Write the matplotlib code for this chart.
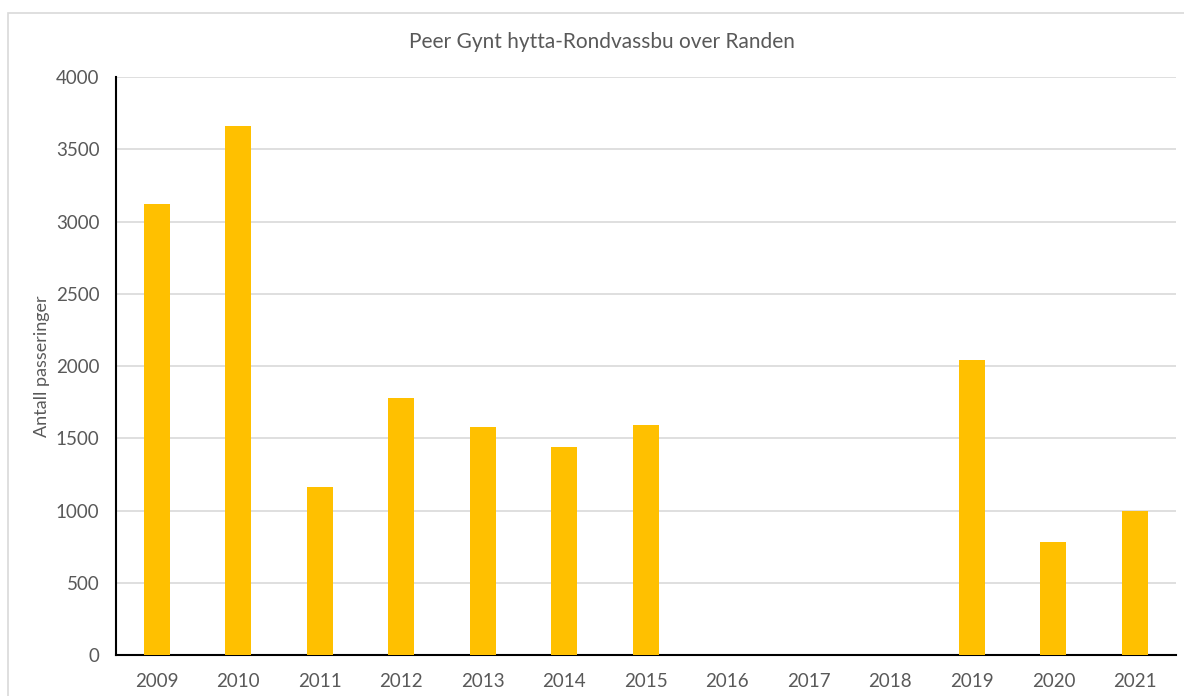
import matplotlib.pyplot as plt
from matplotlib.patches import Rectangle
import numpy as np

plt.rcParams['font.family'] = ['Lato', 'DejaVu Sans']

years = ['2009', '2010', '2011', '2012', '2013', '2014', '2015',
         '2016', '2017', '2018', '2019', '2020', '2021']
passeringer = [3120, 3665, 1165, 1778, 1578, 1440, 1594,
               0, 0, 0, 2040, 782, 998]
yticks = [0, 500, 1000, 1500, 2000, 2500, 3000, 3500, 4000]

txt = '#595959'
fig = plt.figure(figsize=(11.84, 6.96), dpi=100)
ax = fig.add_axes([0.098, 0.059, 0.895, 0.830])

x = np.arange(len(years))
ax.bar(x, passeringer, width=0.32, color='#FFC000', zorder=3)

ax.set_xlim(-0.5, len(years) - 0.5)
ax.set_ylim(0, 4000)
ax.set_yticks(yticks)
ax.set_xticks(x)
ax.set_xticklabels(years)
ax.grid(axis='y', color='#d9d9d9', linewidth=1.2, zorder=0)
ax.tick_params(length=0, colors=txt, labelsize=13.5)
ax.tick_params(axis='x', pad=13)
ax.tick_params(axis='y', pad=12)

for s in ['top', 'right']:
    ax.spines[s].set_visible(False)
ax.spines['left'].set_color('black')
ax.spines['bottom'].set_color('black')
ax.spines['left'].set_linewidth(1.5)
ax.spines['bottom'].set_linewidth(1.5)

ax.set_ylabel('Antall passeringer', color=txt, fontsize=13, labelpad=10)
ax.yaxis.set_label_coords(-0.062, 0.5)
fig.text(0.508, 0.94, 'Peer Gynt hytta-Rondvassbu over Randen',
         ha='center', va='center', color=txt, fontsize=15)

# chart area border
fig.patches.append(Rectangle((8 / 1184, -0.05), 1.2, 1 - 13 / 696 + 0.05,
                             transform=fig.transFigure, fill=False,
                             edgecolor='#d9d9d9', linewidth=1.2))

fig.savefig('out.png', dpi=100)
